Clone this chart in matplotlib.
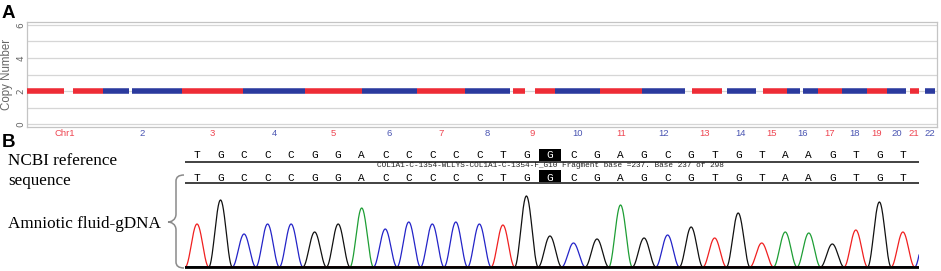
import numpy as np
import matplotlib
matplotlib.use("Agg")
import matplotlib.pyplot as plt
from matplotlib.path import Path
from matplotlib.patches import PathPatch, Rectangle

W, H = 941, 271

# ---------------- Panel A data ----------------
chrom_labels = ["Chr1", "2", "3", "4", "5", "6", "7", "8", "9", "10", "11",
                "12", "13", "14", "15", "16", "17", "18", "19", "20", "21", "22"]
chrom_len_mb = [240, 250, 193, 196, 180, 174, 152, 142, 142, 142, 133,
                136, 123, 104, 95, 98, 76, 79, 63, 60, 51, 47]
# covered regions (Mb, within chromosome); missing entries = whole chromosome
chrom_regions = {
    1: [(0, 117), (145, 240)],
    2: [(0, 82), (92, 250)],
    9: [(9, 47), (79, 142)],
    13: [(22, 117)],
    14: [(9, 101)],
    15: [(19, 95)],
    16: [(0, 41), (50, 98)],
    21: [(13, 41)],
    22: [(9, 41)],
}
copy_number = [2.0] * 22
y_ticks = [0, 2, 4, 6]

# ---------------- Panel B data ----------------
ref_sequence = "TGCCCGGACCCCCTGGCGAGCGTGTAAGTGT"
highlight_index = 15
fragment_note = "COL1A1-C-1354-WLLYS-COL1A1-C-1354-F_G10 Fragment base =237. Base 237 of 298"
trace_calls = list(ref_sequence) + ["C"]
trace_heights = [43, 67, 33, 43, 43, 35, 43, 59, 38, 45, 43, 45, 43, 42, 71, 31,
                 24, 28, 62, 29, 32, 40, 29, 54, 24, 35, 34, 23, 37, 65, 35, 40]

RED = "#EE2C36"
BLUE = "#2B3A9E"
RED_LBL = "#EE4652"
BLUE_LBL = "#4A55B2"
base_colors = {"A": "#1E9E35", "C": "#2424C8", "G": "#111111", "T": "#F02020"}


def fig_rect(x0, y0, x1, y1):
    return [x0 / W, (H - y1) / H, (x1 - x0) / W, (y1 - y0) / H]


fig = plt.figure(figsize=(W / 100, H / 100), dpi=100)
fig.patch.set_facecolor("white")

# ---------------- Panel A ----------------
axA = fig.add_axes(fig_rect(27, 22, 937, 127))
starts = np.concatenate([[0], np.cumsum(chrom_len_mb)[:-1]])
ends = starts + np.array(chrom_len_mb)
for i, (s, L) in enumerate(zip(starts, chrom_len_mb)):
    col = RED if i % 2 == 0 else BLUE
    regs = chrom_regions.get(i + 1, [(0, L)])
    for a, b in regs:
        axA.plot([s + a, s + b], [copy_number[i]] * 2, color=col, lw=4.0,
                 solid_capstyle="butt", zorder=3)
axA.set_xlim(0, ends[-1])
axA.set_ylim(-0.18, 6.18)
axA.set_yticks(y_ticks)
axA.set_yticks(range(0, 7), minor=True)
axA.grid(True, axis="y", which="both", color="#D6D6D6", lw=0.9)
axA.set_axisbelow(True)
for sp in axA.spines.values():
    sp.set_color("#C4C4C4")
    sp.set_linewidth(0.9)
mids = (starts + ends) / 2
axA.set_xticks(mids)
axA.set_xticklabels(chrom_labels, fontsize=6.8, family="Liberation Sans")
for i, t in enumerate(axA.get_xticklabels()):
    t.set_color(RED_LBL if i % 2 == 0 else BLUE_LBL)
axA.tick_params(axis="x", length=0, pad=1.5)
axA.tick_params(axis="y", which="both", length=0, pad=1, labelsize=6.5,
                labelcolor="#666666", labelrotation=90)
for t in axA.get_yticklabels():
    t.set_va("center")
axA.set_ylabel("Copy Number", fontsize=8.3, color="#666666",
               family="Liberation Sans", labelpad=2.5)

# ---------------- Panel B ----------------
s = 23.53
px0 = 197
bx0, bx1 = 185, 919
axB = fig.add_axes(fig_rect(bx0, 145, bx1, 270))
axB.set_xlim((bx0 - px0) / s, (bx1 - px0) / s)
axB.set_ylim(-3, 122)
axB.axis("off")

x = np.linspace((bx0 - px0) / s, (bx1 - px0) / s, 3000)
for base, col in base_colors.items():
    y = np.zeros_like(x)
    for i, (b, h) in enumerate(zip(trace_calls, trace_heights)):
        if b != base:
            continue
        d = x - i
        m = np.abs(d) < 0.5
        y[m] += h * np.cos(np.pi * d[m]) ** 2
    axB.plot(x, y, color=col, lw=0.9, zorder=3)
axB.axhline(0, color="black", lw=2.0, zorder=4)

row_y = [112, 89]
line_y = [105, 84]
for ry, ly in zip(row_y, line_y):
    axB.axhline(ly, color="#333333", lw=1.3)
    for i, b in enumerate(ref_sequence):
        c = "white" if i == highlight_index else "black"
        axB.text(i, ry, b, ha="center", va="center", fontsize=8,
                 family="Liberation Mono", color=c, zorder=5)
    axB.add_patch(Rectangle((highlight_index - 0.47, ly + 1), 0.94, 12,
                            facecolor="black", edgecolor="none", zorder=4))
axB.text(highlight_index, 101, fragment_note, ha="center", va="center",
         fontsize=5.6, family="Liberation Mono", color="#222222")

# ---------------- Overlay texts ----------------
ov = fig.add_axes([0, 0, 1, 1])
ov.set_xlim(0, W)
ov.set_ylim(H, 0)
ov.axis("off")
ov.patch.set_alpha(0)
ov.text(2, 18, "A", fontsize=13.5, fontweight="bold", family="Liberation Sans",
        va="baseline", ha="left")
ov.text(2, 147, "B", fontsize=13.5, fontweight="bold", family="Liberation Sans",
        va="baseline", ha="left")
ov.text(8, 165, "NCBI reference", fontsize=12.3, family="Liberation Serif",
        va="baseline", ha="left")
ov.text(8, 185, "sequence", fontsize=12.3, family="Liberation Serif",
        va="baseline", ha="left")
ov.text(8, 228, "Amniotic fluid-gDNA", fontsize=12.3, family="Liberation Serif",
        va="baseline", ha="left")

# curly brace
bx, tipx, ex = 176, 168, 184
top, mid, bot = 175, 222, 268
verts = [(ex, top), (bx, top), (bx, top + 6),
         (bx, mid - 8),
         (bx, mid - 2), (tipx + 3, mid), (tipx, mid),
         (tipx + 3, mid), (bx, mid + 2), (bx, mid + 8),
         (bx, bot - 6),
         (bx, bot), (ex, bot)]
codes = [Path.MOVETO, Path.CURVE3, Path.CURVE3,
         Path.LINETO,
         Path.CURVE4, Path.CURVE4, Path.CURVE4,
         Path.CURVE4, Path.CURVE4, Path.CURVE4,
         Path.LINETO,
         Path.CURVE3, Path.CURVE3]
ov.add_patch(PathPatch(Path(verts, codes), facecolor="none",
                       edgecolor="#8A8A8A", lw=1.1))

fig.savefig("out.png", dpi=100, facecolor="white")
